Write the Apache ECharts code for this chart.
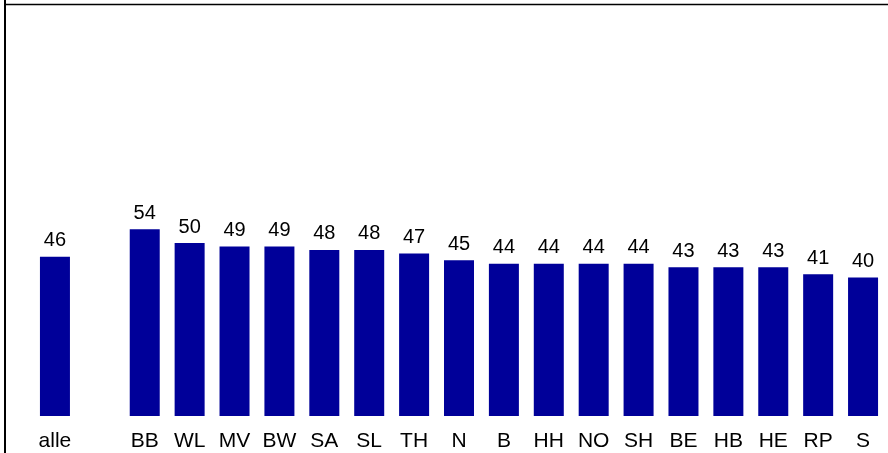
<!DOCTYPE html>
<html>
<head>
<meta charset="utf-8">
<style>
html,body{margin:0;padding:0;background:#fff;}
#chart{width:888px;height:453px;}
</style>
<script src="https://cdn.jsdelivr.net/npm/echarts@6/dist/echarts.min.js"></script>
</head>
<body>
<div id="chart"></div>
<script>
const categories = ['alle', '', 'BB', 'WL', 'MV', 'BW', 'SA', 'SL', 'TH', 'N', 'B', 'HH', 'NO', 'SH', 'BE', 'HB', 'HE', 'RP', 'S'];
const values = [46, '-', 54, 50, 49, 49, 48, 48, 47, 45, 44, 44, 44, 44, 43, 43, 43, 41, 40];

const chart = echarts.init(document.getElementById('chart'), null, {renderer: 'canvas'});
chart.setOption({
  animation: false,
  backgroundColor: '#ffffff',
  textStyle: {fontFamily: 'Liberation Sans, Arial, sans-serif'},
  grid: {left: 32.5, width: 853, top: 70, bottom: 37, containLabel: false},
  xAxis: {
    type: 'category',
    data: categories,
    axisLine: {show: false},
    axisTick: {show: false},
    axisLabel: {color: '#000', fontSize: 21, margin: 15, interval: 0, fontFamily: 'Liberation Sans'}
  },
  yAxis: {
    type: 'value',
    min: 0,
    max: 100,
    show: false,
    splitLine: {show: false}
  },
  series: [{
    type: 'bar',
    data: values,
    barWidth: 30,
    itemStyle: {color: '#000099'},
    label: {
      show: true,
      position: 'top',
      distance: 6,
      color: '#000',
      fontSize: 20,
      fontFamily: 'Liberation Sans'
    }
  }],
  graphic: [
    {type: 'line', shape: {x1: 5, y1: 0, x2: 5, y2: 453}, style: {stroke: '#000', lineWidth: 2}},
    {type: 'line', shape: {x1: 5, y1: 4.5, x2: 888, y2: 4.5}, style: {stroke: '#000', lineWidth: 1.3}}
  ]
});
</script>
</body>
</html>
